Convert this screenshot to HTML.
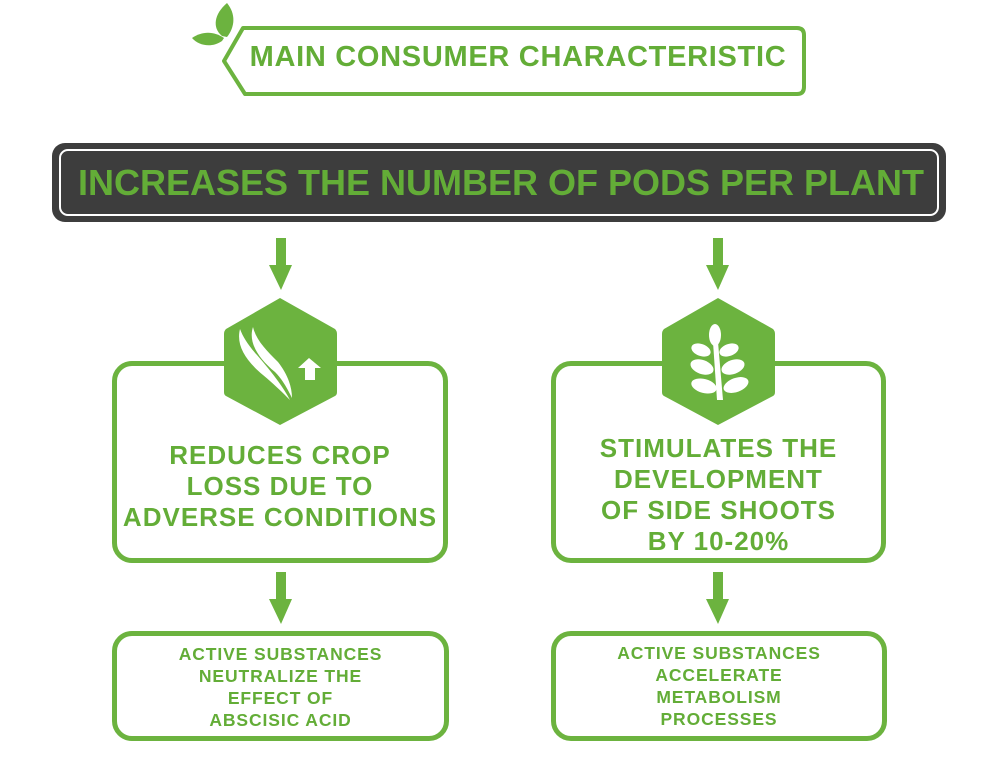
<!DOCTYPE html>
<html><head><meta charset="utf-8"><style>
*{margin:0;padding:0;box-sizing:border-box}
body{width:1002px;height:768px;background:#fff;position:relative;overflow:hidden;font-family:"Liberation Sans",sans-serif;font-weight:bold;color:#63ad37}
.abs{position:absolute}
.box{position:absolute;border:5px solid #6cb33f;border-radius:20px;background:#fff}
.t{position:absolute;left:0;right:0;text-align:center;white-space:nowrap}
</style></head><body>
<svg class="abs" style="left:0;top:0" width="1002" height="768">
  <path d="M243,28 H797 Q804,28 804,35 V87 Q804,94 797,94 H245 L224,61 Z" fill="#fff" stroke="#6cb33f" stroke-width="4" stroke-linejoin="round"/>
  <path d="M222,36 C212,28 214,14 227,3 C236,14 235,27 227,37 Z" fill="#6cb33f"/>
  <path d="M222,41 C212,48 199,46 192,38 C202,31 214,31 224,38 Z" fill="#6cb33f"/>
  <rect x="52" y="143" width="894" height="79" rx="13" fill="#3d3d3d"/>
  <rect x="60" y="150" width="878" height="65" rx="8" fill="none" stroke="#fff" stroke-width="2"/>
  <g fill="#6cb33f">
    <path d="M276,238 H286 V265 H292 L281,290 L269,265 H276 Z"/>
    <path d="M713,238 H723 V265 H729 L718,290 L706,265 H713 Z"/>
    <path d="M276,572 H286 V599 H292 L281,624 L269,599 H276 Z"/>
    <path d="M713,572 H723 V599 H729 L718,624 L706,599 H713 Z"/>
  </g>
</svg>
<div class="t" style="top:41px;left:226px;right:auto;width:584px;font-size:29px;letter-spacing:0.7px">MAIN CONSUMER CHARACTERISTIC</div>
<div class="t" style="top:162px;font-size:36px;letter-spacing:0px">INCREASES THE NUMBER OF PODS PER PLANT</div>

<div class="box" style="left:112px;top:361px;width:336px;height:202px"></div>
<div class="box" style="left:551px;top:361px;width:335px;height:202px"></div>
<div class="box" style="left:112px;top:631px;width:337px;height:110px"></div>
<div class="box" style="left:551px;top:631px;width:336px;height:110px"></div>

<svg class="abs" style="left:0;top:0" width="1002" height="768">
  <g fill="#6cb33f">
    <path d="M280,298 L335,329 Q337,331 337,334 V392 Q337,395 335,396 L280,425 L226,396 Q224,395 224,392 V334 Q224,331 226,329 Z"/>
    <path d="M718,298 L773,329 Q775,331 775,334 V392 Q775,395 773,396 L718,425 L664,396 Q662,395 662,392 V334 Q662,331 664,329 Z"/>
  </g>
  <g fill="#fff">
    <path d="M240,329 C236,345 245,360 263,375 C275,385 285,395 290,400 C282,385 270,370 257,355 C248,345 243,337 240,329 Z"/>
    <path d="M253,327 C248,342 258,358 275,372 C283,380 288,390 292,398 C292,385 286,372 278,362 C266,350 256,340 253,327 Z"/>
    <path d="M309,358 L321,368 H315 V380 H305 V368 H298 Z"/>
  </g>
  <g fill="#fff">
    <path d="M713,342 L718,342 L723,400 L717,400 Z"/>
    <ellipse cx="715" cy="335" rx="6" ry="11"/>
    <ellipse cx="701" cy="350" rx="10" ry="6" transform="rotate(20 701 350)"/>
    <ellipse cx="729" cy="350" rx="10" ry="6" transform="rotate(-20 729 350)"/>
    <ellipse cx="702" cy="367" rx="12" ry="7" transform="rotate(20 702 367)"/>
    <ellipse cx="733" cy="367" rx="12" ry="7" transform="rotate(-20 733 367)"/>
    <ellipse cx="704" cy="386" rx="13" ry="7" transform="rotate(15 704 386)"/>
    <ellipse cx="736" cy="385" rx="13" ry="7" transform="rotate(-20 736 385)"/>
  </g>
</svg>

<div class="t" style="left:112px;right:auto;width:336px;top:440px;font-size:26px;line-height:31px;letter-spacing:1px">REDUCES CROP<br>LOSS DUE TO<br>ADVERSE CONDITIONS</div>
<div class="t" style="left:551px;right:auto;width:335px;top:433px;font-size:26px;line-height:31px;letter-spacing:1px">STIMULATES THE<br>DEVELOPMENT<br>OF SIDE SHOOTS<br>BY 10-20%</div>
<div class="t" style="left:112px;right:auto;width:337px;top:643px;font-size:17.5px;line-height:22px;letter-spacing:0.9px">ACTIVE SUBSTANCES<br>NEUTRALIZE THE<br>EFFECT OF<br>ABSCISIC ACID</div>
<div class="t" style="left:551px;right:auto;width:336px;top:642px;font-size:17.5px;line-height:22px;letter-spacing:0.9px">ACTIVE SUBSTANCES<br>ACCELERATE<br>METABOLISM<br>PROCESSES</div>
</body></html>
